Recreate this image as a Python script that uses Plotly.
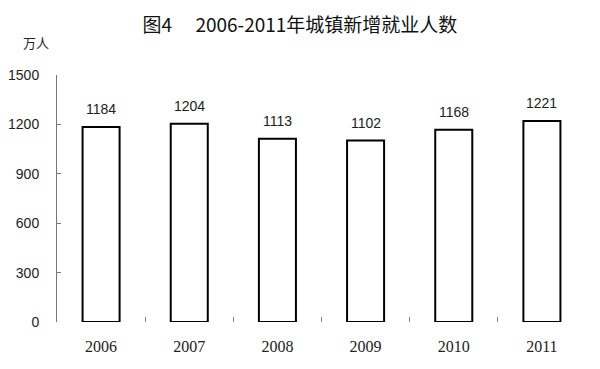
import plotly.graph_objects as go

years = ["2006", "2007", "2008", "2009", "2010", "2011"]
values = [1184, 1204, 1113, 1102, 1168, 1221]
y_ticks = [0, 300, 600, 900, 1200, 1500]

fig = go.Figure()
fig.add_trace(go.Bar(
    x=years, y=values,
    width=0.42,
    marker=dict(color="white", line=dict(color="black", width=2)),
    cliponaxis=False,
))

annots = [dict(x=i, y=v, xref="x", yref="y", text=str(v), showarrow=False,
               yshift=18, xanchor="center", yanchor="middle",
               font=dict(family="Liberation Sans, Arial", size=14, color="#222"))
          for i, v in enumerate(values)]
annots.append(dict(text="万人", xref="paper", yref="paper", x=-0.04, y=1.13,
                   xanchor="center", yanchor="middle", showarrow=False,
                   font=dict(family="Noto Sans CJK SC", size=13, color="#222")))

fig.update_layout(
    width=600, height=369,
    margin=dict(l=57, r=14, t=75, b=47, autoexpand=False),
    paper_bgcolor="white", plot_bgcolor="white",
    showlegend=False,
    title=dict(text="图4\u3000 2006-2011年城镇新增就业人数", x=0.5, xanchor="center",
               y=0.932, yanchor="middle",
               font=dict(family="Noto Sans CJK SC", size=19, color="#111")),
    annotations=annots,
)
fig.update_xaxes(
    type="category", showline=False, showgrid=False, automargin=False,
    ticks="inside", tickson="boundaries", ticklen=5, tickcolor="#888",
    tickfont=dict(family="Liberation Serif, Times New Roman", size=16, color="#222"),
    ticklabelstandoff=13,
)
fig.update_yaxes(
    range=[0, 1500], tickvals=y_ticks, showgrid=False, zeroline=False, automargin=False,
    showline=True, linecolor="#777", linewidth=1,
    ticks="inside", ticklen=4, tickcolor="#777",
    tickfont=dict(family="Liberation Sans, Arial", size=14, color="#222"),
    ticklabelstandoff=14,
)
fig.write_html("out.html", config={"displayModeBar": False},
               post_script="document.body.style.margin='0';")
